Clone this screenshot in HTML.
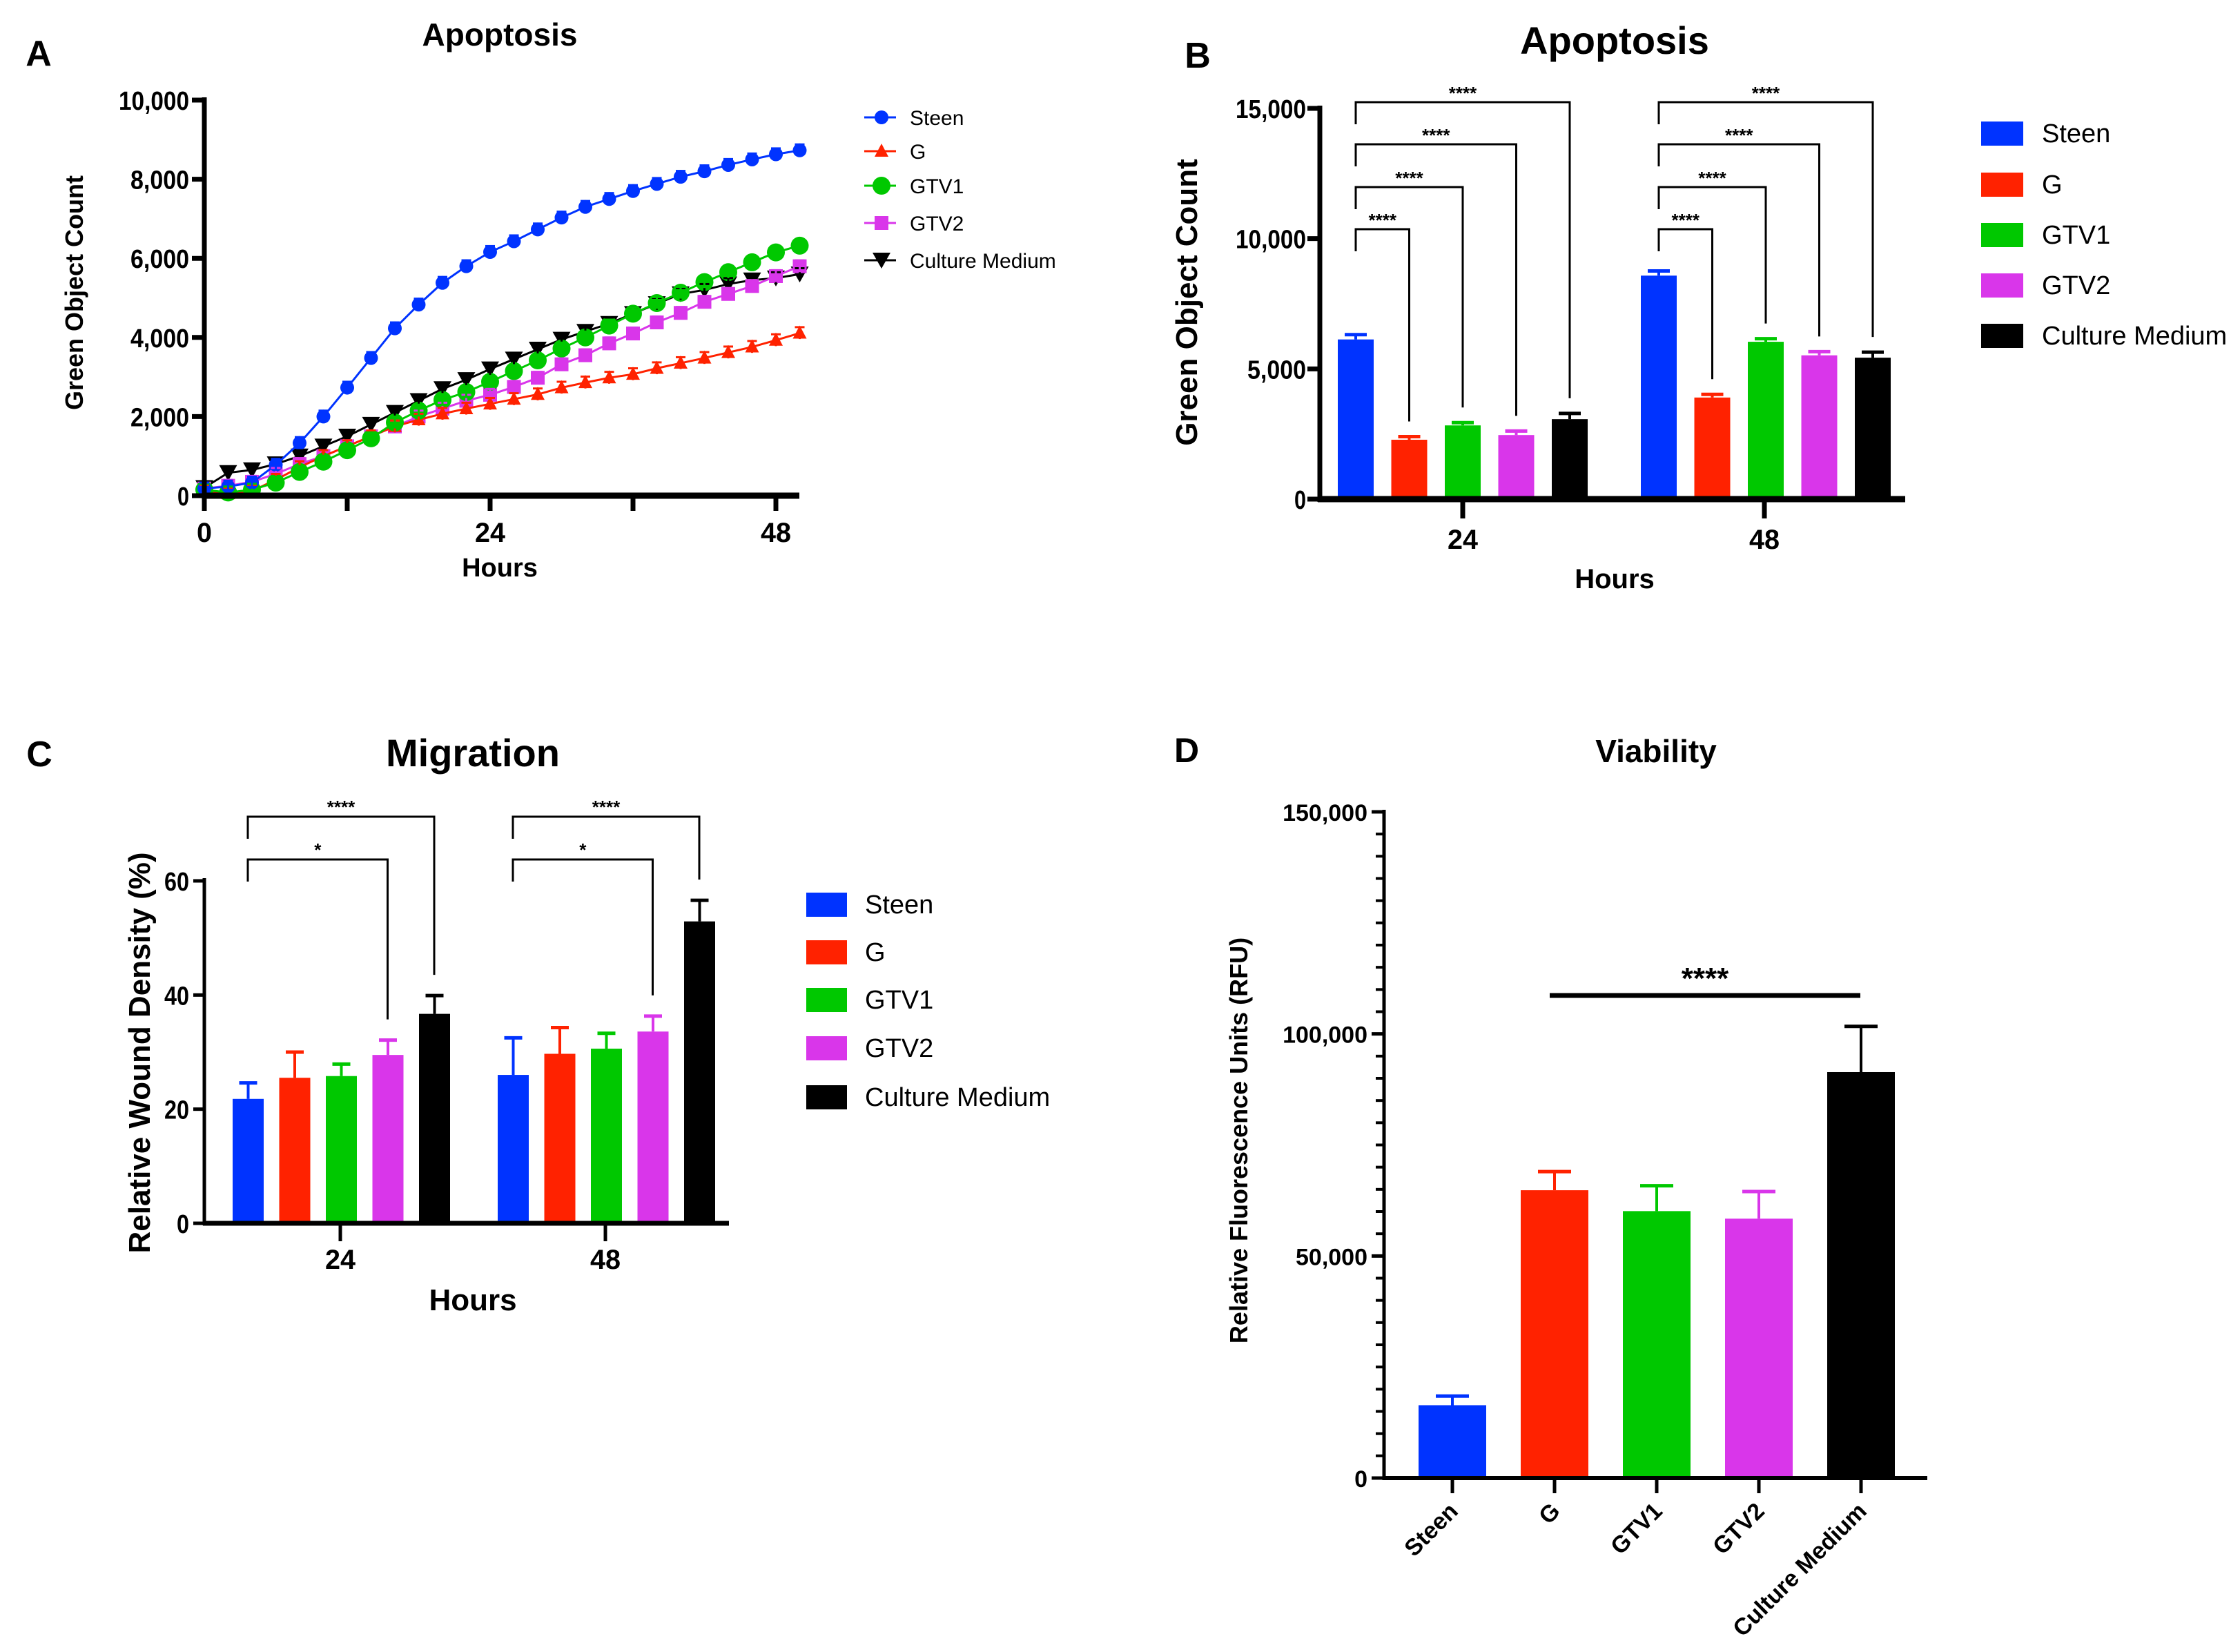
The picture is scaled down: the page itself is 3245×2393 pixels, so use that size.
<!DOCTYPE html>
<html><head><meta charset="utf-8">
<style>
html,body{margin:0;padding:0;background:#fff;}
svg{display:block;font-family:"Liberation Sans",Arial,sans-serif;font-weight:bold;}
</style></head>
<body>
<svg id="fig" width="3245" height="2393" viewBox="0 0 3245 2393" xmlns="http://www.w3.org/2000/svg"></svg>
<script>
// ---------- DATA ----------
const groups = ["Steen","G","GTV1","GTV2","Culture Medium"];
const colors = ["#0033ff","#ff2200","#00c800","#d936ea","#000000"];
// Panel A (time course)
const hoursA = [0,2,4,6,8,10,12,14,16,18,20,22,24,26,28,30,32,34,36,38,40,42,44,46,48,50];
const steenA = [180,230,330,780,1330,2000,2730,3480,4230,4830,5380,5800,6160,6430,6730,7030,7300,7500,7700,7880,8060,8200,8360,8500,8630,8730];
const gA     = [120,50,120,400,720,1000,1250,1500,1750,1920,2070,2200,2320,2440,2560,2730,2860,2980,3070,3220,3350,3480,3620,3760,3930,4110];
const gtv1A  = [150,80,150,330,600,860,1150,1450,1850,2150,2420,2620,2880,3150,3420,3720,4000,4300,4600,4870,5130,5400,5650,5900,6150,6320];
const gtv2A  = [180,250,350,550,800,1000,1250,1500,1750,2000,2200,2400,2550,2750,2980,3320,3550,3850,4100,4380,4620,4900,5100,5300,5550,5800];
const mediumA= [200,580,650,800,1000,1250,1500,1800,2100,2400,2700,2930,3200,3450,3700,3950,4150,4350,4600,4850,5100,5200,5350,5450,5500,5600];
const errA = 150;
const yTicksA = [0,2000,4000,6000,8000,10000];
const yTickLabelsA = ["0","2,000","4,000","6,000","8,000","10,000"];
const xTicksA = [0,24,48];
// Panel B
const timesB = ["24","48"];
const meansB24 = [6130,2280,2830,2460,3070];
const errB24   = [6315,2400,2935,2615,3290];
const meansB48 = [8580,3900,6040,5520,5430];
const errB48   = [8760,4020,6160,5660,5640];
const yTicksB = [0,5000,10000,15000];
const yTickLabelsB = ["0","5,000","10,000","15,000"];
// Panel C
const meansC24 = [21.8,25.5,25.8,29.5,36.7];
const errC24   = [24.6,30.0,27.9,32.1,39.9];
const meansC48 = [26.0,29.7,30.6,33.6,52.9];
const errC48   = [32.5,34.3,33.3,36.3,56.6];
const yTicksC = [0,20,40,60];
// Panel D
const meansD = [16400,64800,60100,58400,91400];
const errD   = [18450,69000,65800,64500,101700];
const yTicksD = [0,50000,100000,150000];
const yTickLabelsD = ["0","50,000","100,000","150,000"];

const NS="http://www.w3.org/2000/svg";
const svg=document.getElementById('fig');
function mk(tag,attrs,parent,text){const e=document.createElementNS(NS,tag);for(const k in attrs)e.setAttribute(k,attrs[k]);if(text!==undefined)e.textContent=text;(parent||svg).appendChild(e);return e;}
function grp(name){const g=mk('g',{});


return g;}
function txt(parent,x,y,s,size,name,anchor,extra){const t=mk('text',Object.assign({x:x,y:y,'font-size':size,'text-anchor':anchor||'middle'},extra||{}),parent,s);


return t;}
function line(parent,x1,y1,x2,y2,w,c,name){const l=mk('line',{x1:x1,y1:y1,x2:x2,y2:y2,stroke:c||'#000','stroke-width':w});


return l;}

// ---------- PANEL A ----------
(function(){
const g=grp('panel-a');
const X0=296,X1=1124,Y0=718,Y1=145;
const xs=v=>X0+(v/48)*(X1-X0), ys=v=>Y0-(v/10000)*(Y0-Y1);
txt(g,56,95,'A',52,'panel-label-a');
txt(g,724,66,'Apoptosis',46,'chart-title-a');
txt(g,0,0,'Green Object Count',36,'y-axis-title-a','middle',{transform:'translate(120,424) rotate(-90)'});
txt(g,724,835,'Hours',38,'x-axis-title-a');
yTicksA.forEach((v,i)=>{line(g,X0-18,ys(v),X0,ys(v),7,'#000','y-tick-a');
txt(g,X0-22,ys(v)+14,yTickLabelsA[i],38,'y-tick-label-a','end',{'textLength':(yTickLabelsA[i].length*17),'lengthAdjust':'spacingAndGlyphs'});});
[0,12,24,36,48].forEach(v=>{line(g,xs(v),Y0,xs(v),Y0+22,7,'#000','x-tick-a');});
xTicksA.forEach(v=>{txt(g,xs(v),785,String(v),40,'x-tick-label-a','middle',{'textLength':String(v).length*22,'lengthAdjust':'spacingAndGlyphs'});});
const series=[steenA,gA,gtv1A,gtv2A,mediumA];
const markers=['circle','tri','bigcircle','square','dtri'];
function marker(parent,type,x,y,c,name){let e;
 if(type==='circle')e=mk('circle',{cx:x,cy:y,r:10,fill:c},parent);
 else if(type==='bigcircle')e=mk('circle',{cx:x,cy:y,r:13,fill:c},parent);
 else if(type==='square')e=mk('rect',{x:x-10,y:y-10,width:20,height:20,fill:c},parent);
 else if(type==='tri')e=mk('polygon',{points:`${x},${y-11} ${x-10},${y+8} ${x+10},${y+8}`,fill:c},parent);
 else e=mk('polygon',{points:`${x-13},${y-11} ${x+13},${y-11} ${x},${y+12}`,fill:c},parent);
 
 
 return e;}
[4,3,1,2,0].forEach(si=>{
 const d=series[si], c=colors[si];
 const sg=mk('g',{},g);
 
 
 const pts=d.map((v,i)=>xs(hoursA[i])+','+ys(v)).join(' ');
 const pl=mk('polyline',{points:pts,fill:'none',stroke:c,'stroke-width':3},sg);
 
 
 d.forEach((v,i)=>{const x=xs(hoursA[i]);
  line(sg,x,ys(v+errA),x,ys(Math.max(0,v-errA)),3,c,'error-bar');
  line(sg,x-7,ys(v+errA),x+7,ys(v+errA),3,c,'error-cap');
  marker(sg,markers[si],x,ys(v),c,'point');});
});
line(g,X0,Y1-4,X0,Y0+4,7,'#000','y-axis-line-a');
line(g,X0-3,Y0,1158,Y0,9,'#000','x-axis-line-a');
const ly=[170,219,269,323,377];
groups.forEach((n,i)=>{const lg=mk('g',{},g);
 
 
 line(lg,1252,ly[i],1298,ly[i],3,colors[i],'legend-line');
 marker(lg,markers[i],1277,ly[i],colors[i],'legend-marker');
 txt(lg,1318,ly[i]+11,n,30,'legend-label','start',{'font-weight':'normal'});});
})();

// ---------- generic grouped bar panel ----------
function barPanel(opt){
 const g=grp(opt.name);
 const ys=v=>opt.Y0-(v/opt.ymax)*(opt.Y0-opt.Y1);
 opt.series.forEach((arr,gi)=>{
  arr.forEach((v,i)=>{const xL=opt.gx[gi]+i*opt.pitch; const xc=xL+opt.bw/2;
   const e=opt.errs[gi][i];
   line(g,xc,ys(e),xc,ys(v),4,colors[i],'error-bar');
   line(g,xc-opt.cap,ys(e),xc+opt.cap,ys(e),5,colors[i],'error-cap');
   const r=mk('rect',{x:xL,y:ys(v),width:opt.bw,height:ys(0)-ys(v),fill:colors[i]},g);
   
   
  });
 });
 return {g,ys};
}

// ---------- PANEL B ----------
(function(){
const X0=1912,Y0=723,Y1=157;
const gx=[1938,2377];
const r=barPanel({name:'panel-b',Y0,Y1,ymax:15000,series:[meansB24,meansB48],errs:[errB24,errB48],gx,pitch:77.5,bw:52,cap:16,cats:timesB});
const g=r.g, ys=r.ys;
txt(g,1735,98,'B',52,'panel-label-b');
txt(g,2339,78,'Apoptosis',56,'chart-title-b');
txt(g,0,0,'Green Object Count',44,'y-axis-title-b','middle',{transform:'translate(1734,438) rotate(-90)'});
txt(g,2339,852,'Hours',40,'x-axis-title-b');
yTicksB.forEach((v,i)=>{line(g,X0-18,ys(v),X0,ys(v),7,'#000','y-tick-b');
 txt(g,X0-20,ys(v)+14,yTickLabelsB[i],38,'y-tick-label-b','end',{'textLength':yTickLabelsB[i].length*17,'lengthAdjust':'spacingAndGlyphs'});});
line(g,X0,Y1-4,X0,Y0+4,7,'#000','y-axis-line-b');
line(g,X0-3,Y0,2760,Y0,9,'#000','x-axis-line-b');
const gc=[2119,2556];
gc.forEach((c,i)=>{line(g,c,Y0,c,Y0+28,7,'#000','x-tick-b');
 txt(g,c,795,timesB[i],40,'x-tick-label-b','middle',{'textLength':44,'lengthAdjust':'spacingAndGlyphs'});});
const tops=[332,271,209,148];
[[meansB24,errB24],[meansB48,errB48]].forEach((pair,gi)=>{
 const xl=gx[gi]+26;
 [1,2,3,4].forEach((j,k)=>{const top=tops[k]; const xr=gx[gi]+j*77.5+26; const bot=ys(pair[1][j])-22;
  const bg=mk('g',{},g);
  
  
  mk('polyline',{points:`${xl},${top+32} ${xl},${top} ${xr},${top} ${xr},${bot}`,fill:'none',stroke:'#000','stroke-width':3},bg);
  txt(bg,(xl+xr)/2,top-4,'****',26,'significance-stars');});
});
const ly=[193,267,340,413,486];
groups.forEach((n,i)=>{const lg=mk('g',{},g);
 
 
 const sw=mk('rect',{x:2870,y:ly[i]-17,width:61,height:35,fill:colors[i]},lg);
 
 
 txt(lg,2958,ly[i]+13,n,38,'legend-label','start',{'font-weight':'normal'});});
})();

// ---------- PANEL C ----------
(function(){
const X0=296,Y0=1772,Y1=1276;
const gx=[337,721];
const r=barPanel({name:'panel-c',Y0,Y1,ymax:60,series:[meansC24,meansC48],errs:[errC24,errC48],gx,pitch:67.5,bw:45,cap:13,cats:timesB});
const g=r.g, ys=r.ys;
txt(g,57,1110,'C',52,'panel-label-c');
txt(g,685,1110,'Migration',56,'chart-title-c');
txt(g,0,0,'Relative Wound Density (%)',44,'y-axis-title-c','middle',{transform:'translate(217,1525) rotate(-90)'});
txt(g,685,1898,'Hours',44,'x-axis-title-c');
yTicksC.forEach(v=>{line(g,X0-16,ys(v),X0,ys(v),5,'#000','y-tick-c');
 txt(g,X0-22,ys(v)+14,String(v),38,'y-tick-label-c','end',{'textLength':String(v).length*18,'lengthAdjust':'spacingAndGlyphs'});});
line(g,X0,Y1-4,X0,Y0+3,5,'#000','y-axis-line-c');
line(g,X0-2,Y0,1056,Y0,7,'#000','x-axis-line-c');
const gc=[493,877];
gc.forEach((c,i)=>{line(g,c,Y0,c,Y0+26,5,'#000','x-tick-c');
 txt(g,c,1838,timesB[i],40,'x-tick-label-c','middle',{'textLength':44,'lengthAdjust':'spacingAndGlyphs'});});
const tops=[1245,1183];
[[meansC24,errC24],[meansC48,errC48]].forEach((pair,gi)=>{
 const xl=gx[gi]+22;
 [3,4].forEach((j,k)=>{const top=tops[k]; const xr=gx[gi]+j*67.5+22; const bot=ys(pair[1][j])-30;
  const bg=mk('g',{},g);
  
  
  mk('polyline',{points:`${xl},${top+32} ${xl},${top} ${xr},${top} ${xr},${bot}`,fill:'none',stroke:'#000','stroke-width':3},bg);
  txt(bg,(xl+xr)/2,top-5,k===0?'*':'****',26,'significance-stars');});
});
const ly=[1310,1379,1448,1518,1589];
groups.forEach((n,i)=>{const lg=mk('g',{},g);
 
 
 const sw=mk('rect',{x:1168,y:ly[i]-17,width:59,height:35,fill:colors[i]},lg);
 
 
 txt(lg,1253,ly[i]+13,n,38,'legend-label','start',{'font-weight':'normal'});});
})();

// ---------- PANEL D ----------
(function(){
const X0=2005,Y0=2141,Y1=1176;
const r=barPanel({name:'panel-d',Y0,Y1,ymax:150000,series:[meansD],errs:[errD],gx:[2055],pitch:148,bw:98,cap:24,cats:['all']});
const g=r.g, ys=r.ys;
txt(g,1719,1104,'D',50,'panel-label-d');
txt(g,2399,1104,'Viability',46,'chart-title-d');
txt(g,0,0,'Relative Fluorescence Units (RFU)',36,'y-axis-title-d','middle',{transform:'translate(1807,1652) rotate(-90)'});
for(let v=0;v<=150000;v+=5000){line(g,X0-12,ys(v),X0,ys(v),4,'#000','y-minor-tick-d');}
yTicksD.forEach((v,i)=>{line(g,X0-18,ys(v),X0,ys(v),5,'#000','y-tick-d');
 txt(g,X0-24,ys(v)+13,yTickLabelsD[i],34,'y-tick-label-d','end');});
line(g,X0,Y1-3,X0,Y0+3,5,'#000','y-axis-line-d');
line(g,X0-2,Y0,2792,Y0,6,'#000','x-axis-line-d');
groups.forEach((n,i)=>{const c=2055+i*148+49;
 line(g,c,Y0,c,Y0+22,5,'#000','x-tick-d');
 txt(g,0,0,n,34,'x-tick-label-d','end',{transform:`translate(${c+10},${Y0+50}) rotate(-45)`});});
line(g,2245,1442,2695,1442,7,'#000','significance-line-d');
txt(g,2470,1432,'****',44,'significance-stars-d');
})();
</script>
</body></html>
